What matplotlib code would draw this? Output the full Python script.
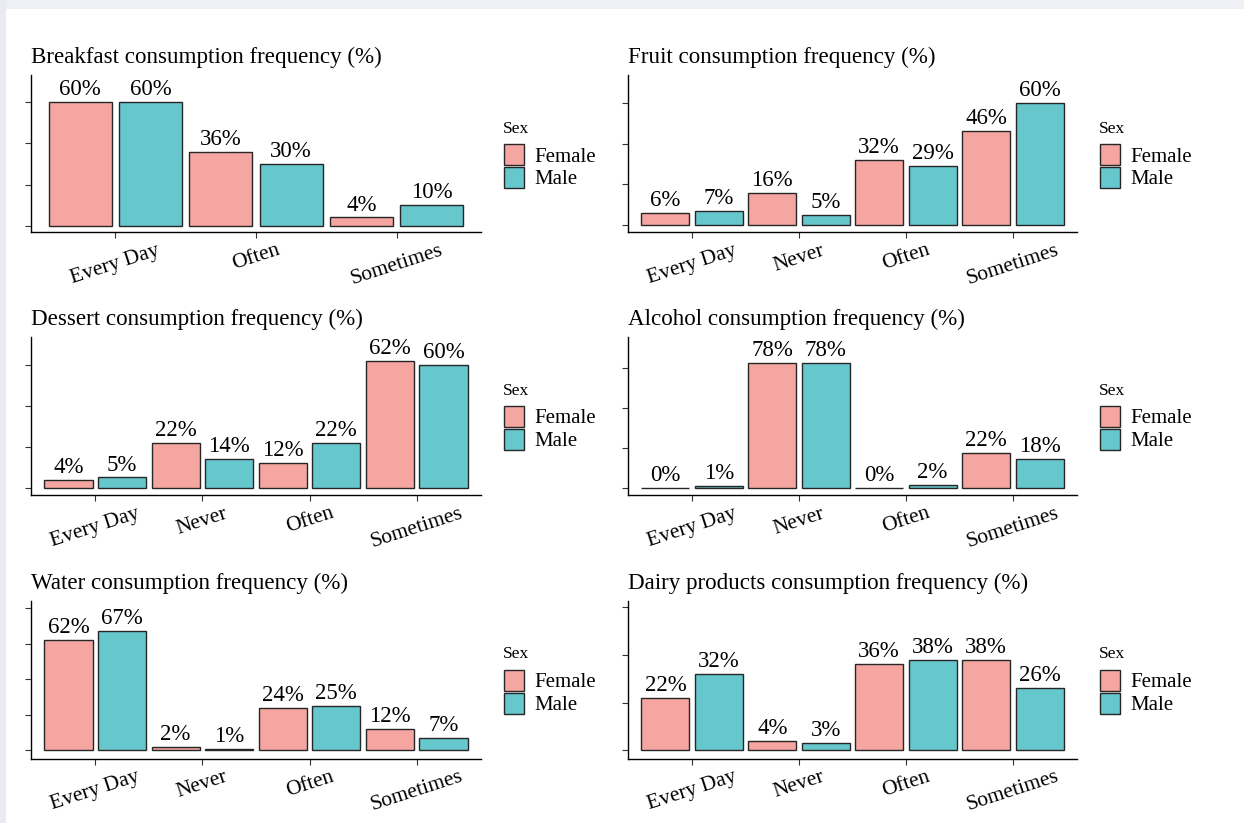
import matplotlib
matplotlib.use("Agg")
import matplotlib.pyplot as plt
from matplotlib.patches import Rectangle
import numpy as np

plt.rcParams['font.family'] = ['Liberation Serif', 'DejaVu Serif']

# data (percent)
cats3 = ["Every Day", "Often", "Sometimes"]
cats4 = ["Every Day", "Never", "Often", "Sometimes"]

breakfast_f = [60, 36, 4]
breakfast_m = [60, 30, 10]
fruit_f = [6, 16, 32, 46]
fruit_m = [7, 5, 29, 60]
dessert_f = [4, 22, 12, 62]
dessert_m = [5, 14, 22, 60]
alcohol_f = [0, 78, 0, 22]
alcohol_m = [1, 78, 2, 18]
water_f = [62, 2, 24, 12]
water_m = [67, 1, 25, 7]
dairy_f = [22, 4, 36, 38]
dairy_m = [32, 3, 38, 26]

FEMALE = '#F5A6A1'
MALE = '#66C7CD'
EDGE = '#262626'

W, H = 1244, 823
fig = plt.figure(figsize=(W / 100, H / 100), dpi=100)

# faint scan border
fig.patches.append(Rectangle((0, 1 - 9 / H), 1, 9 / H, transform=fig.transFigure,
                             facecolor='#EEF0F6', edgecolor='none'))
fig.patches.append(Rectangle((0, 0), 6 / W, 1, transform=fig.transFigure,
                             facecolor='#E9EAF2', edgecolor='none'))


def fx(x):
    return x / W


def fy(y):
    return 1 - y / H


def draw_panel(x0, y0, x1, y1, title, cats, fem, male, ylim, yticks):
    ax = fig.add_axes([fx(x0), fy(y1), (x1 - x0) / W, (y1 - y0) / H])
    ax.patch.set_alpha(0)
    pos = np.arange(1, len(cats) + 1)
    ax.bar(pos - 0.25, fem, 0.45, color=FEMALE, edgecolor=EDGE, linewidth=1.0)
    ax.bar(pos + 0.25, male, 0.45, color=MALE, edgecolor=EDGE, linewidth=1.0)
    for xs, vals in [(pos - 0.25, fem), (pos + 0.25, male)]:
        for x, v in zip(xs, vals):
            ax.annotate(f"{v}%", (x, v), xytext=(0, 5), textcoords='offset points',
                        ha='center', va='baseline', fontsize=16.5)
    ax.set_xlim(0.4, len(cats) + 0.6)
    ax.set_ylim(*ylim)
    ax.set_yticks(yticks)
    ax.set_yticklabels([])
    ax.set_xticks(pos)
    ax.set_xticklabels(cats, rotation=18, ha='center', va='top', fontsize=15.5)
    ax.tick_params(axis='both', length=4, width=0.8, color='#333333', pad=2.5)
    for s in ['top', 'right']:
        ax.spines[s].set_visible(False)
    for s in ['left', 'bottom']:
        ax.spines[s].set_linewidth(1.0)
        ax.spines[s].set_color('black')

    fig.text(fx(x0), fy(y0 - 12), title, fontsize=16.6, ha='left', va='baseline')

    # legend
    lx = x1 + 23
    fig.text(fx(lx - 1), fy(y0 + 58), "Sex", fontsize=12.5, ha='left', va='baseline')
    for i, (lab, col) in enumerate([("Female", FEMALE), ("Male", MALE)]):
        kt = y0 + 69 + i * 23
        fig.patches.append(Rectangle((fx(lx), fy(kt + 21)), 20 / W, 21 / H,
                                     transform=fig.transFigure, facecolor=col,
                                     edgecolor=EDGE, linewidth=1.0))
        fig.text(fx(lx + 30), fy(kt + 17.5), lab, fontsize=15, ha='left', va='baseline')


LX0, LX1 = 31, 481
RX0, RX1 = 628, 1077
R1, R1B = 75, 232
R2, R2B = 336.7, 495
R3, R3B = 600.5, 758.5

draw_panel(LX0, R1, LX1, R1B, "Breakfast consumption frequency (%)", cats3,
           breakfast_f, breakfast_m, (-3.06, 73.2), [0, 20, 40, 60])
draw_panel(RX0, R1, RX1, R1B, "Fruit consumption frequency (%)", cats4,
           fruit_f, fruit_m, (-3.27, 73.5), [0, 20, 40, 60])
draw_panel(LX0, R2, LX1, R2B, "Dessert consumption frequency (%)", cats4,
           dessert_f, dessert_m, (-3.56, 73.7), [0, 20, 40, 60])
draw_panel(RX0, R2, RX1, R2B, "Alcohol consumption frequency (%)", cats4,
           alcohol_f, alcohol_m, (-4.58, 94.7), [0, 25, 50, 75])
draw_panel(LX0, R3, LX1, R3B, "Water consumption frequency (%)", cats4,
           water_f, water_m, (-4.6, 84.2), [0, 20, 40, 60, 80])
draw_panel(RX0, R3, RX1, R3B, "Dairy products consumption frequency (%)", cats4,
           dairy_f, dairy_m, (-3.43, 62.7), [0, 20, 40, 60])

fig.savefig("out.png", dpi=100)
